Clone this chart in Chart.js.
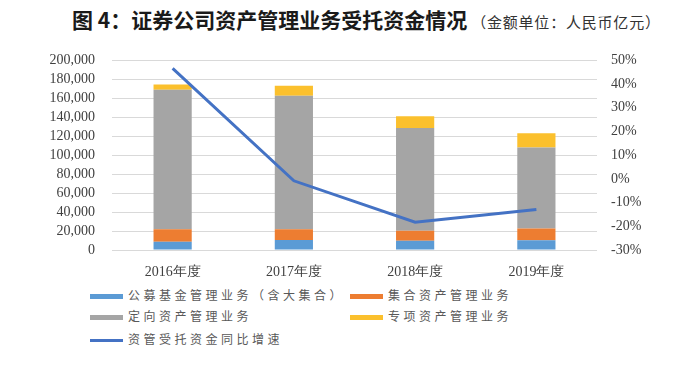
<!DOCTYPE html>
<html>
<head>
<meta charset="utf-8">
<script src="https://cdn.jsdelivr.net/npm/chart.js@4/dist/chart.umd.min.js"></script>
<style>
  body { margin: 0; background: #fff; width: 699px; height: 368px; overflow: hidden; position: relative; }
  #title { position: absolute; top: 4px; left: 72px; white-space: nowrap;
    font-family: "Noto Sans CJK SC", sans-serif; color: #1a1a1a; }
  #title b { font-size: 21px; }
  #title span { font-size: 15px; color: #333; margin-left: 4px; letter-spacing: 0.8px; }
  #wrap { position: absolute; left: 0; top: 35px; width: 699px; height: 242px; }
  #legend { position: absolute; left: 90px; top: 285px; font-family: "Noto Sans CJK SC", sans-serif;
    font-size: 12px; color: #595959; letter-spacing: 3.5px; }
  .item { position: absolute; white-space: nowrap; height: 20px; line-height: 20px; }
  .item i { display: inline-block; width: 33px; vertical-align: middle; margin-right: 5px; }
</style>
</head>
<body>
<div id="title"><b>图 4：证券公司资产管理业务受托资金情况</b><span>（金额单位：人民币亿元）</span></div>
<div id="wrap"><canvas id="c"></canvas></div>
<div id="legend"></div>
<script>
// 亿元
var years = ['2016年度', '2017年度', '2018年度', '2019年度'];
var gongmu = [8700, 10500, 9800, 10200];      // 公募基金管理业务（含大集合）
var jihe = [13300, 11500, 10500, 12600];      // 集合资产管理业务
var dingxiang = [147000, 140700, 108500, 85300]; // 定向资产管理业务
var zhuanxiang = [5600, 10500, 12200, 15100];  // 专项资产管理业务
var growth = [46.6, -0.8, -18.3, -12.9];      // 资管受托资金同比增速 (%)

var serif = '"Liberation Serif", "Times New Roman", serif';

var chart = new Chart(document.getElementById('c'), {
    type: 'bar',
    data: {
        labels: years,
        datasets: [
            { label: '公募基金管理业务（含大集合）', data: gongmu, backgroundColor: '#5b9bd5', stack: 's', order: 1 },
            { label: '集合资产管理业务', data: jihe, backgroundColor: '#ed7d31', stack: 's', order: 1 },
            { label: '定向资产管理业务', data: dingxiang, backgroundColor: '#a5a5a5', stack: 's', order: 1 },
            { label: '专项资产管理业务', data: zhuanxiang, backgroundColor: '#fbc02d', stack: 's', order: 1 },
            { label: '资管受托资金同比增速', data: growth, type: 'line', yAxisID: 'y2', borderColor: '#4472c4',
              backgroundColor: '#4472c4', borderWidth: 3, pointRadius: 0, tension: 0, order: 0 }
        ]
    },
    options: {
        responsive: true,
        maintainAspectRatio: false,
        animation: false,
        layout: { padding: { left: 0, right: 0, top: 5, bottom: 0 } },
        datasets: { bar: { categoryPercentage: 1, barPercentage: 0.315 } },
        plugins: { legend: { display: false }, tooltip: { enabled: false } },
        scales: {
            x: {
                stacked: true,
                grid: { display: false },
                border: { display: false },
                ticks: { color: '#404040', font: { family: serif, size: 14 }, padding: 6 },
                afterFit: function (s) { s.height = 27; }
            },
            y: {
                stacked: true,
                min: 0, max: 200000,
                ticks: { stepSize: 20000, autoSkip: false, color: '#404040', padding: 17, font: { family: serif, size: 14 },
                    callback: function (v) { return v.toLocaleString('en-US'); } },
                grid: { color: '#d9d9d9', drawTicks: false },
                border: { display: false },
                afterFit: function (s) { s.width = 112; }
            },
            y2: {
                position: 'right',
                min: -30, max: 50,
                ticks: { stepSize: 10, autoSkip: false, color: '#404040', padding: 14, font: { family: serif, size: 14 },
                    callback: function (v) { return v + '%'; } },
                grid: { display: false, drawTicks: false },
                border: { display: false },
                afterFit: function (s) { s.width = 102; }
            }
        }
    }
});

// legend in two columns, built from the chart's datasets
var pos = [[0, 0], [260, 0], [0, 21], [260, 21], [0, 44]];
var lg = document.getElementById('legend');
chart.data.datasets.forEach(function (ds, i) {
    var d = document.createElement('div');
    d.className = 'item';
    d.style.left = pos[i][0] + 'px';
    d.style.top = pos[i][1] + 'px';
    var h = ds.type === 'line' ? 3 : 5;
    var col = ds.type === 'line' ? ds.borderColor : ds.backgroundColor;
    d.innerHTML = '<i style="height:' + h + 'px;background:' + col + '"></i>' + ds.label;
    lg.appendChild(d);
});
</script>
</body>
</html>
